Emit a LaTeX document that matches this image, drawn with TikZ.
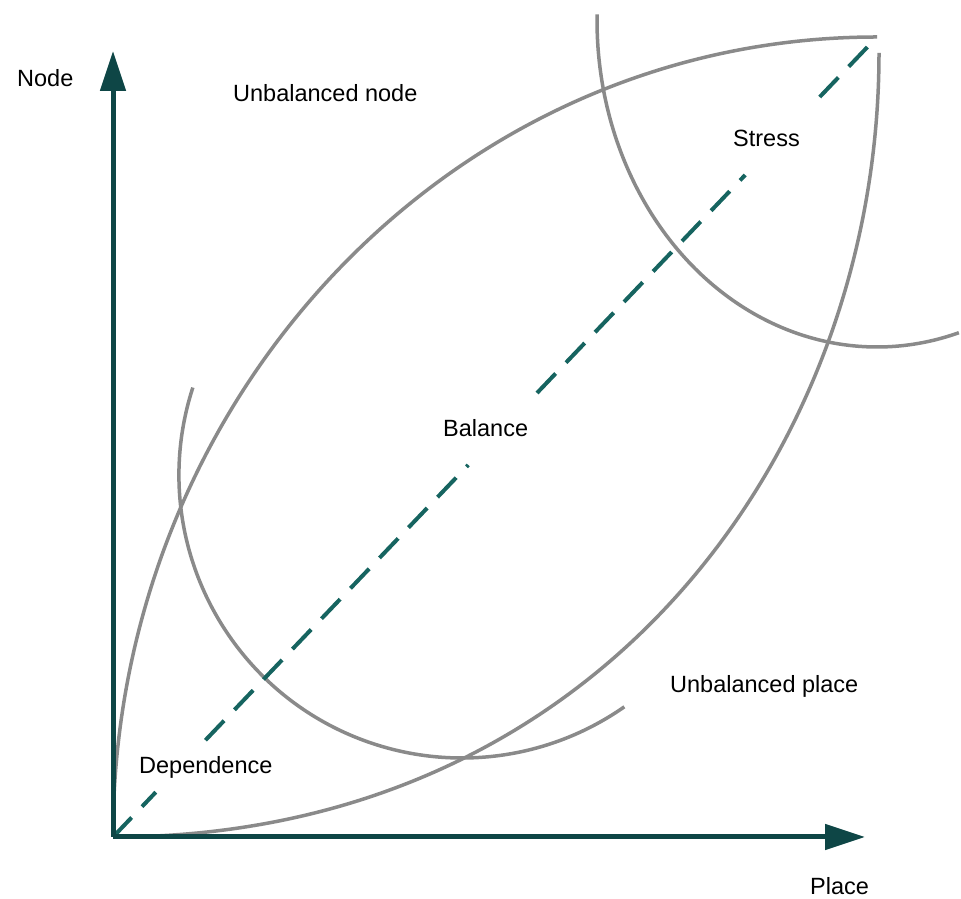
\documentclass[tikz,border=0pt]{standalone}
\usepackage{fontspec}
\setmainfont{Liberation Sans}
\usepackage{tikz}
\usetikzlibrary{arrows.meta,calc}

\definecolor{axisteal}{RGB}{14,70,70}
\definecolor{dashteal}{RGB}{22,100,96}
\definecolor{curvegray}{RGB}{138,138,138}

\tikzset{
  axis/.style={draw=axisteal,line width=5pt,-{Triangle[length=40pt,width=25pt]}},
  curve/.style={draw=curvegray,line width=3.5pt},
  balline/.style={draw=dashteal,line width=4pt,dash pattern=on 27pt off 15pt},
  lbl/.style={inner sep=0pt,anchor=base west,font=\fontsize{23.5}{28}\selectfont}
}

\begin{document}
\begin{tikzpicture}[x=1pt,y=1pt]
  \useasboundingbox (0,0) rectangle (961,899);
  \coordinate (O) at (113,62);
  \coordinate (T) at (877,862);
  \coordinate (ytip) at (113,848);
  \coordinate (xtip) at (865,62);
  \coordinate (lowend) at (879,846);
  \coordinate (depc) at (462,424);
  \coordinate (strc) at (877,879);
  % lens and the two arcs
  \draw[curve] (O) .. controls (113,499) and (450,862) .. (T);
  \draw[curve] (O) .. controls (600,62) and (879,449) .. (lowend);
  \draw[curve] ([shift={(162:283pt)}]depc) arc[start angle=162,end angle=305,radius=283pt];
  \draw[curve] ($(strc)+({280*cos(179)},{327*sin(179)})$) arc[start angle=179,end angle=287,x radius=280pt,y radius=327pt];
  % balance line, broken at the labels
  \foreach \a/\b in {0/0.056,0.121/0.465,0.555/0.8275,0.925/1}
    \draw[balline] ($(O)!\a!(T)$) -- ($(O)!\b!(T)$);
  \draw[axis] (O) -- (ytip);
  \draw[axis] (O) -- (xtip);
  \node[lbl] (ynode) at (17,812) {Node};
  \node[lbl] (xplace) at (810,4) {Place};
  \node[lbl] (unode) at (233,797) {Unbalanced node};
  \node[lbl] (stress) at (733,752) {Stress};
  \node[lbl] (balance) at (443,462) {Balance};
  \node[lbl] (uplace) at (670,206) {Unbalanced place};
  \node[lbl] (dep) at (139,125) {Dependence};
\end{tikzpicture}
\end{document}
